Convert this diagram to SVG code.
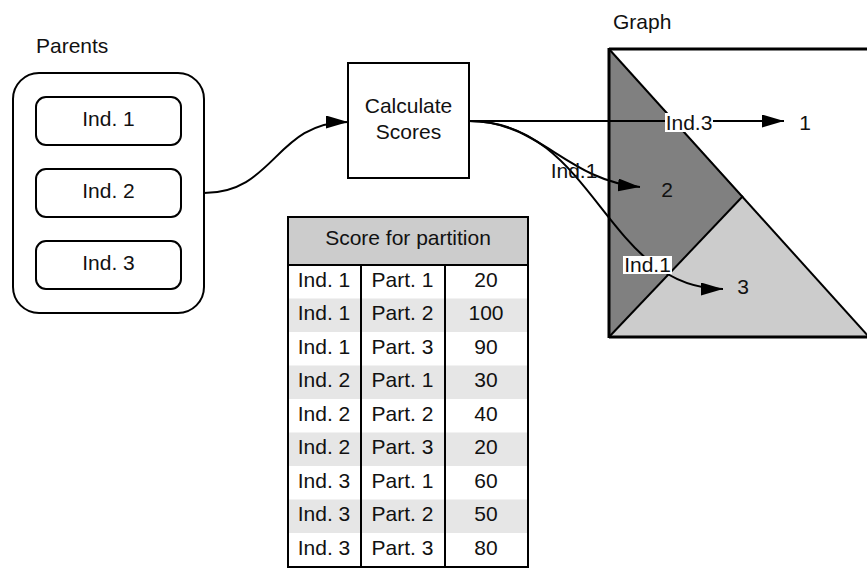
<svg xmlns="http://www.w3.org/2000/svg" width="867" height="570" viewBox="0 0 867 570">
<defs>
<marker id="arr" markerUnits="userSpaceOnUse" markerWidth="22" markerHeight="13" refX="22" refY="6.5" orient="auto">
<path d="M0,0 L22,6.5 L0,13 z" fill="#000"/>
</marker>
<style>
text{font-family:"Liberation Sans",Arial,sans-serif;font-size:21px;fill:#111}
.c{text-anchor:middle}
.box{fill:#fff;stroke:#000;stroke-width:2}
.conn{fill:none;stroke:#000;stroke-width:2}
.line{stroke:#000;stroke-width:2;fill:none}
.thick{stroke:#000;stroke-width:3;fill:none}
.lbl{fill:#fff}
.shade{fill:#e6e6e6}
</style>
</defs>
<rect width="867" height="570" fill="#fff"/>

<g id="graph">
<polygon points="609,49 743,196 609,337" fill="#808080"/>
<polygon points="743,196 609,337 869,337" fill="#cccccc"/>
<line class="line" x1="609" y1="49" x2="869" y2="337"/>
<line class="line" x1="743" y1="196" x2="609" y2="337"/>
<line class="thick" x1="609" y1="49" x2="867" y2="49"/>
<line class="thick" x1="609" y1="337" x2="867" y2="337"/>
<line class="thick" x1="609" y1="48" x2="609" y2="338"/>
<text x="613" y="29">Graph</text>
<text class="c" x="805" y="130">1</text>
<text class="c" x="667" y="197">2</text>
<text class="c" x="743" y="294">3</text>
</g>

<g id="parents">
<rect class="box" x="13" y="73" width="191" height="240" rx="26"/>
<text x="36" y="53">Parents</text>
</g>
<g id="ind1">
<rect class="box" x="36" y="97" width="145" height="48" rx="10"/>
<text class="c" x="108.5" y="126">Ind. 1</text>
</g>
<g id="ind2">
<rect class="box" x="36" y="169" width="145" height="48" rx="10"/>
<text class="c" x="108.5" y="198">Ind. 2</text>
</g>
<g id="ind3">
<rect class="box" x="36" y="241" width="145" height="48" rx="10"/>
<text class="c" x="108.5" y="270">Ind. 3</text>
</g>

<g id="calc">
<rect class="box" x="348" y="63" width="121" height="115"/>
<text class="c" x="408.5" y="113">Calculate</text>
<text class="c" x="408.5" y="139">Scores</text>
</g>

<g id="table">
<rect x="288" y="217" width="240" height="48" fill="#cccccc"/>
<rect class="shade" x="288" y="298.5" width="240" height="33.5"/>
<rect class="shade" x="288" y="365.5" width="240" height="33.5"/>
<rect class="shade" x="288" y="432.5" width="240" height="33.5"/>
<rect class="shade" x="288" y="499.5" width="240" height="33.5"/>
<rect x="288" y="217" width="240" height="350" fill="none" stroke="#000" stroke-width="2"/>
<line class="line" x1="288" y1="265" x2="528" y2="265"/>
<line class="line" x1="361" y1="265" x2="361" y2="567"/>
<line class="line" x1="445" y1="265" x2="445" y2="567"/>
<text class="c" x="408" y="245">Score for partition</text>
<g class="c">
<text class="c" x="324" y="286.5">Ind. 1</text><text class="c" x="402.5" y="286.5">Part. 1</text><text class="c" x="486" y="286.5">20</text>
<text class="c" x="324" y="320">Ind. 1</text><text class="c" x="402.5" y="320">Part. 2</text><text class="c" x="486" y="320">100</text>
<text class="c" x="324" y="353.5">Ind. 1</text><text class="c" x="402.5" y="353.5">Part. 3</text><text class="c" x="486" y="353.5">90</text>
<text class="c" x="324" y="387">Ind. 2</text><text class="c" x="402.5" y="387">Part. 1</text><text class="c" x="486" y="387">30</text>
<text class="c" x="324" y="420.5">Ind. 2</text><text class="c" x="402.5" y="420.5">Part. 2</text><text class="c" x="486" y="420.5">40</text>
<text class="c" x="324" y="454">Ind. 2</text><text class="c" x="402.5" y="454">Part. 3</text><text class="c" x="486" y="454">20</text>
<text class="c" x="324" y="487.5">Ind. 3</text><text class="c" x="402.5" y="487.5">Part. 1</text><text class="c" x="486" y="487.5">60</text>
<text class="c" x="324" y="521">Ind. 3</text><text class="c" x="402.5" y="521">Part. 2</text><text class="c" x="486" y="521">50</text>
<text class="c" x="324" y="554.5">Ind. 3</text><text class="c" x="402.5" y="554.5">Part. 3</text><text class="c" x="486" y="554.5">80</text>
</g>
</g>

<g id="connectors">
<path class="conn" d="M204,193 C275,193 275,122 348,122" marker-end="url(#arr)"/>
<path class="conn" d="M469,121 L784,121" marker-end="url(#arr)"/>
<path class="conn" d="M469,121 C540,121 565,180 640,187" marker-end="url(#arr)"/>
<path class="conn" d="M469,121 C595,121 605,289 723,289" marker-end="url(#arr)"/>
<rect class="lbl" x="665" y="113" width="48" height="19"/>
<text class="c" x="689" y="130">Ind.3</text>
<text class="c" x="574" y="178">Ind.1</text>
<rect class="lbl" x="623" y="256" width="49" height="18"/>
<text class="c" x="647.5" y="272">Ind.1</text>
</g>
</svg>
